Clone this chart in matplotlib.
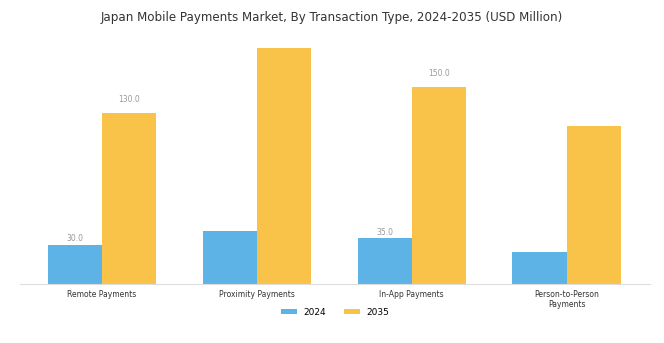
import matplotlib
matplotlib.use("Agg")
import matplotlib.pyplot as plt
import numpy as np

categories = ["Remote Payments", "Proximity Payments", "In-App Payments", "Person-to-Person\nPayments"]
series_names = ["2024", "2035"]
values_2024 = [30.0, 40.0, 35.0, 24.0]
values_2035 = [130.0, 180.0, 150.0, 120.0]
labeled_2024 = [True, False, True, False]
labeled_2035 = [True, False, True, False]

colors = ["#5DB3E6", "#F9C34A"]

fig = plt.figure(figsize=(6.64, 3.43), dpi=100)
ax = fig.add_axes([0.0301, 0.172, 0.949, 0.758])

x = np.arange(len(categories))
w = 0.35
b1 = ax.bar(x - w / 2, values_2024, w, color=colors[0], label=series_names[0])
b2 = ax.bar(x + w / 2, values_2035, w, color=colors[1], label=series_names[1])

for xi, v, lab in zip(x - w / 2, values_2024, labeled_2024):
    if lab:
        ax.annotate(f"{v:.1f}", (xi, v), xytext=(0, 1), textcoords="offset points",
                    ha="center", va="bottom", fontsize=5.5, color="#999999")
for xi, v, lab in zip(x + w / 2, values_2035, labeled_2035):
    if lab:
        ax.annotate(f"{v:.1f}", (xi, v), xytext=(0, 6.5), textcoords="offset points",
                    ha="center", va="bottom", fontsize=5.5, color="#999999")

ax.set_xlim(-0.53, 3.54)
ax.set_ylim(0, 198)
ax.set_xticks(x)
ax.set_xticklabels(categories, fontsize=5.5, color="#333333", linespacing=1.2)
ax.tick_params(axis="x", length=0, pad=4)
ax.set_yticks([])
for s in ["top", "right", "left"]:
    ax.spines[s].set_visible(False)
ax.spines["bottom"].set_color("#dddddd")
ax.spines["bottom"].set_linewidth(0.8)

fig.suptitle("Japan Mobile Payments Market, By Transaction Type, 2024-2035 (USD Million)",
             fontsize=8.6, color="#333333", y=0.967)

fig.legend(handles=[b1, b2], labels=series_names, loc="center", bbox_to_anchor=(0.505, 0.09),
           ncol=2, frameon=False, fontsize=6.5, handlelength=1.8, handleheight=0.6,
           columnspacing=2.0, handletextpad=0.7)

fig.savefig("out.png", dpi=100)
